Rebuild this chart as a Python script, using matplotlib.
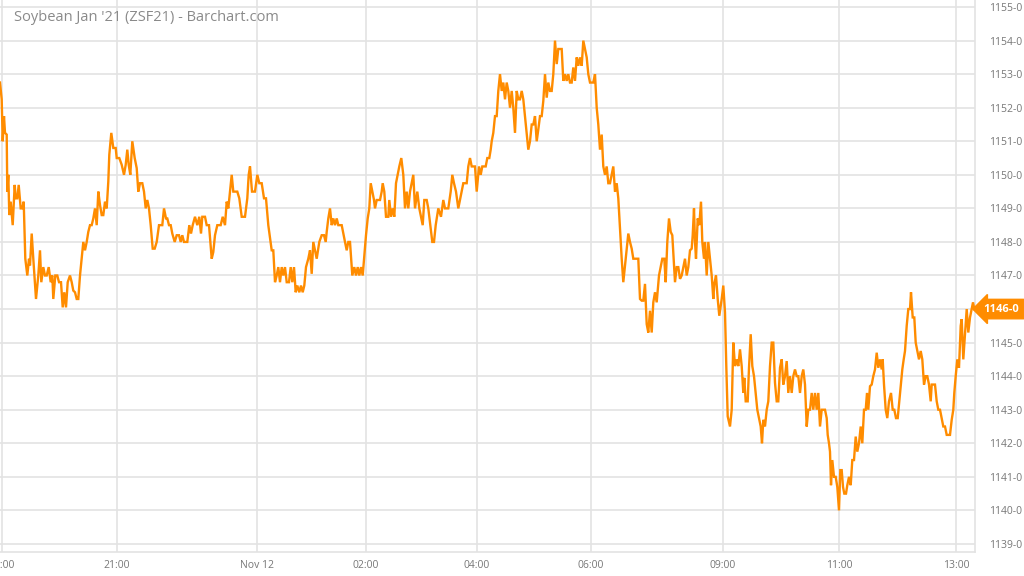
import matplotlib.pyplot as plt
import matplotlib.transforms as mtransforms

# bar position (chart x index) and last price
bars = [
    0, 1.7, 2.7, 4, 5, 6.7, 7.3, 8.3, 9.3, 10.7, 12.7, 14.7, 15.7, 17.3, 18.7, 20.7, 22.3, 23.7,
    25.3, 27.3, 29, 30, 31.7, 33.3, 36, 38.3, 40, 41.3, 43.3, 45, 46.7, 48.7, 50.7, 52.3, 53.3,
    55.3, 57.3, 59, 61, 62.7, 64.3, 66, 67.7, 70, 71.7, 73.3, 75, 76.7, 78.3, 80, 81.7, 83.3,
    85, 86.7, 88.3, 90, 91.7, 93.3, 95, 96.7, 98.3, 100, 101.7, 103.3, 105, 106.7, 108.3, 109.3,
    111.3, 113.3, 115.7, 116.7, 119.3, 121.7, 124, 125.7, 127.3, 128.7, 130.3, 132.3, 134.7,
    136.7, 138.3, 140, 142.3, 144, 145.7, 147.3, 149, 150.7, 152.7, 154.7, 156.7, 159, 162.3, 164,
    166, 167.3, 169, 170.7, 172.3, 174.7, 176.7, 179, 180.7, 182.3, 184, 187.3, 189.3, 191, 192.7,
    195, 197.3, 199.3, 201, 202.3, 205, 206.7, 209, 211.7, 213.3, 215, 217.3, 220.7, 222.7, 225,
    226.7, 228.3, 230, 231.7, 233.3, 237.3, 239.3, 241.7, 245, 247.3, 248.7, 250, 252, 255, 257.3,
    259.3, 261.7, 264, 266, 268.3, 271.7, 273.3, 275, 276.7, 278.3, 280, 281.7, 283.3, 285, 286.7,
    289, 290.7, 292.3, 294, 295.7, 297.3, 299.3, 301, 302.7, 304.3, 306, 308.3, 310, 311.7, 313.3,
    315, 316.7, 319.3, 321.7, 324, 325.7,
    326.7, 328.3, 330, 331.7, 333.3, 335, 336.7, 338.3, 341.7, 343.3, 345, 346.7, 348.3, 350,
    352.3, 354.3, 356, 357.7, 359.3, 361, 362.7, 364.3, 366, 367.7, 369.3, 370.7, 372.3, 374, 375,
    376.7, 378.3, 380, 381.7, 382.7, 384.3, 386, 388.3, 389.3, 391, 392.7, 394.3, 396, 397.7, 399.3,
    401.3, 403.3, 405, 406.7, 408.3, 410, 411.7, 413.3, 415, 417.3, 419.3, 421, 422.7, 424.3, 426.7,
    428.3, 430.3, 432.3, 434, 435.7, 438.3, 441, 443.3, 445, 448.3, 450.7, 452.3, 454, 456, 458.3,
    460, 461.7, 463.3, 466.7, 468.3, 470, 471.7, 475, 476.7, 479, 480.7, 482.3, 485.7, 487.3, 489.3,
    490.7,
    491.7, 493.3, 495, 496.7, 498.3, 500, 501.7, 503.3, 505, 506.7, 508.3, 510, 511.7, 513.3, 515,
    516.7, 518.3, 520, 521.7, 523.3, 525, 526.7, 528.3, 530, 531.7, 533.3, 535, 536.7, 538.3, 540,
    541.7, 543.3, 545, 546.7, 548.3, 550, 551.7, 553.3, 555, 556.7, 558.3, 560, 561.7, 563.3, 565,
    566.7, 568.3, 570, 571.7, 573.3, 575, 576.7, 578.3, 580, 581.7, 583.3, 585, 586.7, 588.3, 590,
    591.7, 593.3, 595, 596.7, 598.3, 600, 601.7, 603.3, 605, 606.7, 608.3, 610, 611.7, 613.3, 615,
    616.7, 618.3, 620, 621.7, 623.3, 625, 626.7, 628.3, 630, 631.7, 633.3, 638.3, 640, 641.7, 643.3,
    645, 646.7, 648.3, 650, 651.7, 653.3, 655, 656.7,
    659, 660.7, 662.3, 664.3, 665.7, 667.3, 669, 670.7, 672.3, 673.7, 675, 676.7, 678.3, 680, 681.7,
    683.3, 685, 686.7, 688.3, 690, 691.7, 692.7, 694, 695, 696, 697.7, 699.3, 701, 702.3, 704, 705,
    706.7, 708.3, 710, 711.7, 713.3, 714.3, 716, 717.7, 719.3, 721.7, 723.3, 725, 726.3, 727.7, 730,
    731.7, 733.3, 735, 736.7, 738.3, 740, 741.7, 743.3, 744.3, 745.7, 747.7, 749, 750.7, 752.3, 754,
    755.7, 757.3, 759, 760.7, 762, 763.3, 765, 766.7, 768.3, 770, 771.7, 773.3, 775, 776.7, 778.3,
    780, 781.7, 783.3, 785, 786.7, 788.3, 790, 791.7, 793.3, 795, 796.7, 798.3, 800, 801.7, 803.3,
    805, 806.7, 808.3, 810, 811.7, 813.3, 815, 816.7, 818.3, 820, 821.7,
    825, 826.7, 827.7, 829, 830, 831, 832.3, 834, 835.7, 837.3, 839, 840.3, 841.7, 843, 844.3, 846,
    847.3, 849, 850.7, 852.3, 854, 855.7, 857.3, 859, 860.7, 862.3, 864, 865.7, 867, 868.3, 870,
    871.7, 873.3, 875, 876.7, 878.3, 880, 881.7, 882.7, 884, 885.7, 887.3, 889, 891, 892.7, 894.3,
    896, 897.7, 899.3, 901, 902.3, 903.7, 905, 906.7, 908.3, 910, 911, 912.7, 914.3, 915.7, 917.3,
    919, 920.7, 922.3, 924, 925.7, 927.3, 929, 930.7, 931.7, 935, 936.7, 938.3, 940, 941.7, 943.3,
    945, 946.7, 950, 951.7, 953.3, 954.3, 955.7, 957.3, 959, 960.7, 961.7, 963.3, 965, 966.7, 968.3,
    970, 971.7, 973, 974.3,
]
prices = [
    1152.75, 1152.25, 1151.0, 1151.75, 1151.25, 1151.2, 1149.5, 1150.0, 1148.8, 1149.2, 1148.5,
    1149.7, 1149.3, 1149.3, 1149.7, 1149.0, 1149.0, 1149.2, 1147.5, 1147.0, 1147.5, 1147.3, 1148.25,
    1147.5, 1146.3, 1147.0, 1147.75, 1146.8, 1147.25, 1147.0, 1147.0, 1147.25, 1146.8, 1147.0,
    1146.3, 1147.0, 1147.0, 1146.8, 1146.8, 1146.05, 1146.5, 1146.05, 1146.8, 1147.0, 1146.8,
    1146.55, 1146.5, 1146.3, 1146.3, 1147.0, 1147.5, 1148.0, 1147.75, 1148.0, 1148.3, 1148.5,
    1148.5, 1148.7, 1149.0, 1148.5, 1149.5, 1149.1, 1148.8, 1148.8, 1149.2, 1149.0, 1149.8, 1150.6,
    1151.25, 1150.8, 1150.8, 1150.5, 1150.5, 1150.3, 1150.0, 1150.3, 1150.75, 1150.3, 1150.0,
    1151.0, 1150.5, 1150.2, 1149.5, 1149.75, 1149.75, 1149.5, 1149.0, 1149.25, 1149.0, 1148.5,
    1147.8, 1147.8, 1148.0, 1148.5, 1148.5, 1149.0,
    1148.7, 1148.7, 1148.5, 1148.5, 1148.25, 1148.0, 1148.2, 1148.2, 1148.0, 1148.2, 1148.0,
    1148.0, 1148.5, 1148.25, 1148.5, 1148.75, 1148.5, 1148.75, 1148.25, 1148.75, 1148.75, 1148.5,
    1148.5, 1147.5, 1147.7, 1148.2, 1148.5, 1148.5, 1148.75, 1148.5, 1149.2, 1149.0, 1149.5,
    1150.0, 1149.5, 1149.5, 1149.3, 1148.75, 1148.75, 1149.3, 1150.0, 1150.25, 1149.5, 1149.5,
    1150.0, 1149.75, 1149.75, 1149.3, 1149.3, 1148.5, 1147.75, 1147.75, 1146.8, 1147.0, 1147.25,
    1146.8, 1147.25, 1147.0, 1147.25, 1146.8, 1146.8, 1147.25, 1146.8, 1147.25, 1146.5, 1146.7,
    1146.5, 1146.7, 1146.5, 1146.7, 1147.25, 1147.5, 1147.75, 1147.05, 1148.0, 1147.75, 1147.5,
    1148.0, 1148.2, 1148.2, 1148.0,
    1148.3, 1148.7, 1149.0, 1148.5, 1148.7, 1148.5, 1148.7, 1148.5, 1148.5, 1148.25, 1148.0,
    1147.75, 1148.0, 1148.0, 1147.0, 1147.25, 1147.0, 1147.25, 1147.0, 1147.25, 1147.0, 1147.6,
    1148.2, 1148.7, 1149.0, 1149.75, 1149.5, 1149.25, 1149.0, 1149.25, 1149.25, 1149.25, 1149.5,
    1149.75, 1149.5, 1148.75, 1148.75, 1149.25, 1148.75, 1149.0, 1148.75, 1149.75, 1150.0,
    1150.25, 1150.5, 1150.0, 1149.0, 1149.5, 1149.0, 1149.5, 1149.75, 1150.0, 1149.0, 1149.5,
    1149.0, 1148.75, 1148.5, 1149.25, 1149.25, 1149.0, 1148.5, 1148.0, 1148.0, 1148.5, 1149.0,
    1148.75, 1149.25, 1149.0, 1149.0, 1149.5, 1150.0, 1149.75, 1149.5, 1149.0, 1149.25, 1149.5,
    1149.75, 1149.75, 1150.25, 1150.5, 1150.25, 1150.25, 1149.5, 1150.25, 1150.0, 1150.25,
    1150.25, 1150.5, 1150.5, 1150.75,
    1151.0, 1151.25, 1151.75, 1151.75, 1152.5, 1153.0, 1152.5, 1152.75, 1152.25, 1152.75, 1152.5,
    1152.0, 1152.5, 1152.0, 1151.25, 1152.5, 1152.25, 1152.25, 1152.5, 1152.25, 1151.75, 1151.25,
    1150.75, 1151.0, 1151.5, 1151.5, 1151.75, 1151.0, 1151.35, 1151.75, 1151.75, 1152.2, 1153.0,
    1152.3, 1152.75, 1152.5, 1152.5, 1153.0, 1154.0, 1153.3, 1153.75, 1153.75, 1153.75, 1152.8,
    1153.0, 1152.8, 1153.0, 1152.75, 1152.75, 1153.2, 1152.8, 1153.5, 1153.25, 1153.5, 1153.25,
    1154.0, 1153.75, 1153.5, 1153.0, 1152.75, 1152.75, 1152.75, 1153.0, 1152.0, 1151.5, 1150.75,
    1151.2, 1150.25, 1150.0, 1150.25, 1149.75, 1149.75, 1150.0, 1150.25, 1149.5, 1149.75, 1149.3,
    1148.4, 1147.5, 1146.8, 1147.3, 1147.8, 1148.25, 1148.0, 1147.8, 1147.5, 1147.5, 1146.3,
    1146.25, 1146.25, 1146.75, 1145.55, 1145.3, 1145.95, 1145.3, 1146.2, 1146.5, 1146.2,
    1147.0, 1147.25, 1147.5, 1147.5, 1146.8, 1148.0, 1148.7, 1148.3, 1148.2, 1147.5, 1146.8,
    1147.25, 1147.25, 1146.9, 1147.0, 1147.25, 1147.5, 1147.0, 1147.25, 1147.75, 1147.8, 1148.2,
    1149.0, 1148.0, 1147.5, 1148.7, 1148.5, 1149.2, 1148.0, 1147.5, 1148.0, 1147.0, 1148.0,
    1147.5, 1147.0, 1146.3, 1146.75, 1147.0, 1146.3, 1145.8, 1146.3, 1146.7, 1145.9, 1144.3,
    1142.8, 1142.5, 1143.0, 1145.0, 1144.3, 1144.5, 1144.3, 1144.8, 1144.3, 1143.5, 1143.95,
    1143.25, 1143.25, 1144.25, 1145.25, 1144.3, 1144.0, 1143.5, 1143.0, 1142.75, 1142.5, 1142.0,
    1142.7, 1142.5, 1143.0, 1143.25, 1144.3, 1145.0, 1145.0, 1143.8, 1143.25, 1143.25, 1144.25,
    1144.5, 1143.75, 1144.0, 1144.45, 1143.5, 1144.0, 1143.5, 1144.0, 1144.2, 1144.0, 1144.0,
    1143.5, 1144.0, 1144.2, 1143.75, 1142.5, 1143.0, 1143.0, 1143.5, 1143.0, 1143.5, 1143.0,
    1143.5, 1142.5, 1143.0,
    1143.0, 1142.75, 1142.25, 1142.0, 1141.75, 1140.75, 1141.5, 1141.0, 1141.0, 1140.7, 1140.0,
    1141.2, 1141.2, 1140.7, 1140.5, 1140.5, 1140.75, 1141.0, 1140.75, 1141.5, 1141.5, 1142.2,
    1141.75, 1142.0, 1142.5, 1142.0, 1143.0, 1143.0, 1143.5, 1143.0, 1143.7, 1143.75, 1144.0,
    1144.2, 1144.7, 1144.25, 1144.5, 1144.2, 1144.5, 1143.75, 1143.0, 1142.75, 1143.25, 1143.5,
    1143.0, 1143.0, 1142.75, 1142.75, 1143.25, 1143.75, 1144.2, 1144.5, 1144.75, 1145.5, 1146.0,
    1146.0, 1146.5, 1145.75, 1145.75, 1145.0, 1144.75, 1144.5, 1144.75, 1144.5, 1143.75, 1144.0,
    1144.0, 1143.75, 1143.25, 1143.75, 1143.75, 1143.25, 1143.0, 1143.0, 1142.75, 1142.5, 1142.5,
    1142.25, 1142.25, 1142.7, 1143.0, 1143.5, 1144.0, 1144.5, 1144.25, 1145.5, 1145.7, 1144.5,
    1145.25, 1146.0, 1145.3, 1145.75, 1146.0, 1146.2, 1146.0,
]

tick_bars = [2, 117, 257, 366, 477, 591, 723, 839, 956]
tick_labels = ["20:00", "21:00", "Nov 12", "02:00", "04:00", "06:00", "09:00", "11:00", "13:00"]
price_levels = list(range(1139, 1156))
title = "Soybean Jan '21 (ZSF21) - Barchart.com"

line_color = "#ff8c00"
grid_color = "#e3e3e3"
text_color = "#777777"

plt.rcParams["font.family"] = ["Open Sans", "DejaVu Sans"]

fig = plt.figure(figsize=(10.24, 5.76), dpi=100)
ax = fig.add_axes([0.0, 24 / 576, 975 / 1024, 1 - 24 / 576])

ax.plot(bars, prices, color=line_color, linewidth=1.7, solid_joinstyle="miter", zorder=3)

ax.set_xlim(0, 975)
ax.set_ylim(1138.76, 1155.21)

last = prices[-1]
last_label = f"{int(round(last))}-0"

ax.set_xticks(tick_bars)
ax.set_xticklabels(tick_labels)
ax.set_yticks(price_levels)
# the level under the last-price tag is covered by the tag itself
ax.set_yticklabels(["" if p == round(last) else f"{p}-0" for p in price_levels])
ax.yaxis.tick_right()
ax.tick_params(axis="both", length=0, labelsize=7.5, colors=text_color)
ax.tick_params(axis="y", pad=10)
ax.tick_params(axis="x", pad=6)

ax.grid(True, color=grid_color, linewidth=1.2, zorder=0)
for side in ["top", "left"]:
    ax.spines[side].set_visible(False)
for side in ["right", "bottom"]:
    ax.spines[side].set_color(grid_color)
    ax.spines[side].set_linewidth(1.2)

ax.text(14 / 975, 0.968, title, transform=ax.transAxes, fontsize=10.5,
        color="#8a8a8a", ha="left", va="center")

# last price tag on the right axis
trans = mtransforms.blended_transform_factory(ax.transAxes, ax.transData)
ax.text(1.009, last, last_label, transform=trans, ha="left", va="center",
        fontsize=8, fontweight="bold", color="white", clip_on=False, zorder=5,
        bbox=dict(boxstyle="larrow,pad=0.38", fc=line_color, ec=line_color))

fig.savefig("out.png", dpi=100)
